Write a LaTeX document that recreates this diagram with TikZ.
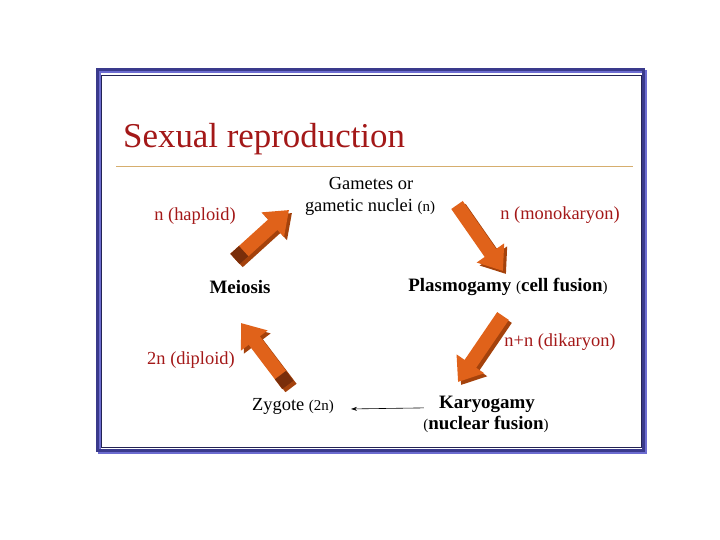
\documentclass[tikz,border=0pt]{standalone}
\usepackage{fontspec}
\setmainfont{Liberation Serif}
\usepackage{xcolor}
\usepackage{tikz}
\usetikzlibrary{arrows.meta, positioning, calc}

\definecolor{titlered}{HTML}{A31818}
\definecolor{framenavy}{HTML}{3A3A8C}
\definecolor{framelight}{HTML}{6C6CD0}
\definecolor{rulegold}{HTML}{D6AE6E}
\definecolor{arroworange}{HTML}{E0621A}
\definecolor{arrowdark}{HTML}{A4420C}
\definecolor{arrowtail}{HTML}{7A2E0A}

\begin{document}
\begin{tikzpicture}[x=1bp, y=-1bp,
    % Styles
    plain/.style={font=\fontsize{18.5}{20}\selectfont, anchor=base, inner sep=1bp},
    stage/.style={plain, font=\fontsize{19}{21}\selectfont\bfseries},
    ploidy/.style={plain, text=titlered},
    fatarrow/.style={line width=14bp, draw=arroworange, -{Triangle[width=32bp,length=22bp]}},
    fatshade/.style={fatarrow, draw=arrowdark},
    tailcap/.style={line width=14bp, draw=arrowtail},
    thinarrow/.style={-{Stealth[length=6bp,width=4bp]}, line width=0.6bp}
]
    \useasboundingbox (0,0) rectangle (720,540);

    % --- Frame ---
    \draw[framelight, line width=3bp] (99,72) rectangle (645,452);
    \draw[framenavy, line width=3bp] (97,70) rectangle (643,450);
    \draw[framenavy!60!black, line width=0.8bp] (101,75) rectangle (641,447);

    % --- Title ---
    \node[anchor=base west, inner sep=0, font=\fontsize{35}{40}\selectfont, text=titlered] (title) at (123,148) {Sexual reproduction};
    \draw[rulegold, line width=1bp] (116,167) -- (633,167);

    % --- Stages ---
    \node[plain] (gam1) at (371,190) {Gametes or};
    \node[plain] (gam2) at (370,212) {gametic nuclei {\fontsize{15}{17}\selectfont(n)}};
    \node[stage] (meio) at (240,293) {Meiosis};
    \node[stage] (plasmo) at (508,291) {Plasmogamy {\mdseries\fontsize{15}{17}\selectfont(}cell fusion{\mdseries\fontsize{15}{17}\selectfont)}};
    \node[plain] (zyg) at (293,410) {Zygote {\fontsize{15}{17}\selectfont(2n)}};
    \node[stage] (karyo) at (487,408) {Karyogamy};
    \node[stage] (nucfus) at (486,429) {{\mdseries\fontsize{15}{17}\selectfont(}nuclear fusion{\mdseries\fontsize{15}{17}\selectfont)}};

    % Ploidy labels
    \node[ploidy] (hap) at (195,221) {n (haploid)};
    \node[ploidy] (mono) at (560,220) {n (monokaryon)};
    \node[ploidy] (dik) at (560,346) {n+n (dikaryon)};
    \node[ploidy] (dip) at (191,364) {2n (diploid)};

    % --- Block arrows ---
    \coordinate (hapt) at (235,259);
    \coordinate (haph) at (289,210);
    \coordinate (monot) at (457,205);
    \coordinate (monoh) at (503,271);
    \coordinate (dikt) at (503,316);
    \coordinate (dikh) at (458,382);
    \coordinate (dipt) at (288,385);
    \coordinate (diph) at (241,323);

    \draw[fatshade] ([shift={(3,3)}]hapt) -- ([shift={(3,3)}]haph);
    \draw[fatarrow] (hapt) -- (haph);
    \draw[tailcap] (hapt) -- ($(hapt)!0.16!(haph)$);

    \draw[fatshade] ([shift={(3,3)}]monot) -- ([shift={(3,3)}]monoh);
    \draw[fatarrow] (monot) -- (monoh);

    \draw[fatshade] ([shift={(3,3)}]dikt) -- ([shift={(3,3)}]dikh);
    \draw[fatarrow] (dikt) -- (dikh);

    \draw[fatshade] ([shift={(3,3)}]dipt) -- ([shift={(3,3)}]diph);
    \draw[fatarrow] (dipt) -- (diph);
    \draw[tailcap] (dipt) -- ($(dipt)!0.16!(diph)$);

    % --- Karyogamy to zygote ---
    \draw[thinarrow] ([xshift=-14bp, yshift=-4bp]karyo.west) -- ([xshift=16bp, yshift=-3bp]zyg.east);

\end{tikzpicture}
\end{document}
